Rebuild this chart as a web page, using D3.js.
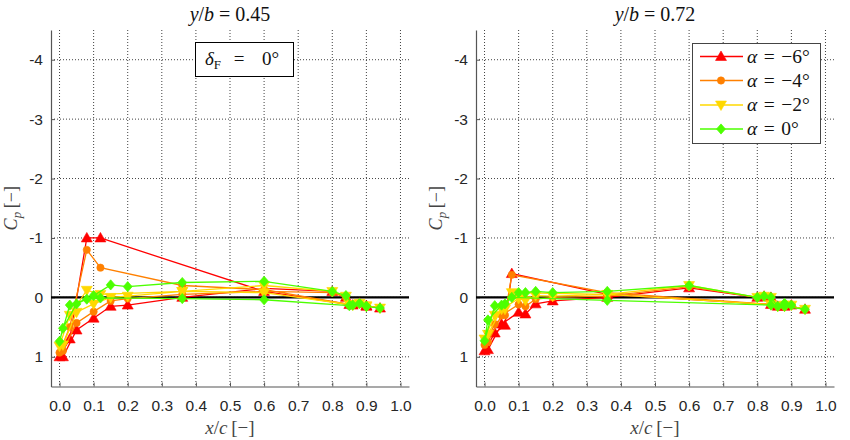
<!DOCTYPE html>
<html><head><meta charset="utf-8">
<script src="https://cdn.jsdelivr.net/npm/d3@7"></script>
<style>body{margin:0;background:#fff} .serif{font-family:"Liberation Serif","Times New Roman","DejaVu Serif",serif} .sans{font-family:"Liberation Sans",Arial,Helvetica,sans-serif}</style>
</head><body><svg id="c" width="850" height="440"></svg>
<script>
// ---------- data ----------
const xTicks = [0, 0.1, 0.2, 0.3, 0.4, 0.5, 0.6, 0.7, 0.8, 0.9, 1.0];
const yTicks = [-4, -3, -2, -1, 0, 1];
const alphaLabels = ["\u22126", "\u22124", "\u22122", "0"];
const seriesColors = ["#ff0000", "#ff8000", "#ffd800", "#4cff00"];
const seriesSymbols = ["triangle", "circle", "triangleDown", "diamond"];
const panelTitles = ["0.45", "0.72"];

// y/b = 0.45 : surface A (suction-peak side) and surface B, leading edge -> trailing edge
const leftXA = [0.0, 0.03, 0.08, 0.12, 0.36, 0.6, 0.85, 0.88, 0.9, 0.94];
const leftXB = [0.01, 0.05, 0.1, 0.15, 0.2, 0.36, 0.6, 0.8, 0.84, 0.86, 0.9];
const leftRedA    = [1.0, 0.70, -1.0, -1.0, null, -0.10, 0.12, 0.10, 0.14, 0.18];
const leftRedB    = [1.0, 0.55, 0.35, 0.15, 0.13, 0.0, -0.15, -0.10, 0.0, 0.13, 0.15];
const leftOrangeA = [0.93, 0.50, -0.80, -0.50, -0.20, -0.13, 0.12, 0.10, 0.14, 0.18];
const leftOrangeB = [0.90, 0.43, 0.24, 0.06, 0.02, -0.05, -0.10, -0.08, 0.0, 0.13, 0.15];
const leftYellowA = [0.82, 0.30, -0.12, -0.05, -0.10, -0.08, 0.12, 0.10, 0.14, 0.18];
const leftYellowB = [0.80, 0.25, 0.11, 0.0, -0.02, -0.10, -0.20, -0.10, -0.02, 0.13, 0.15];
const leftGreenA  = [0.74, 0.13, 0.03, 0.01, 0.02, 0.04, 0.14, 0.10, 0.15, 0.18];
const leftGreenB  = [0.52, 0.11, -0.03, -0.21, -0.18, -0.25, -0.27, -0.10, -0.03, 0.13, 0.15];

// y/b = 0.72
const rightXA = [0.0, 0.03, 0.06, 0.08, 0.36, 0.84, 0.88, 0.94];
const rightXB = [0.01, 0.05, 0.1, 0.12, 0.15, 0.2, 0.36, 0.6, 0.8, 0.82, 0.84, 0.86, 0.88, 0.9];
const rightRedA    = [0.90, 0.60, 0.47, -0.40, -0.05, 0.12, 0.13, 0.20];
const rightRedB    = [0.88, 0.45, 0.25, 0.28, 0.11, 0.06, 0.0, -0.16, 0.0, -0.02, 0.0, 0.15, 0.15, 0.13];
const rightOrangeA = [0.80, 0.45, 0.30, -0.38, -0.08, 0.12, 0.13, 0.20];
const rightOrangeB = [0.75, 0.30, 0.12, 0.15, 0.03, 0.0, -0.02, -0.18, 0.0, -0.02, 0.0, 0.15, 0.15, 0.13];
const rightYellowA = [0.70, 0.30, 0.20, -0.08, -0.05, 0.12, 0.13, 0.20];
const rightYellowB = [0.62, 0.20, 0.02, 0.05, -0.03, -0.02, -0.05, -0.20, 0.0, -0.02, 0.0, 0.15, 0.15, 0.13];
const rightGreenA  = [0.73, 0.14, 0.11, 0.0, 0.05, 0.13, 0.15, 0.20];
const rightGreenB  = [0.38, 0.13, -0.08, -0.08, -0.10, -0.08, -0.10, -0.20, 0.0, -0.02, 0.0, 0.15, 0.10, 0.13];

// ---------- build ----------
const panels = [
  {title: panelTitles[0], left: 51, xA: leftXA, xB: leftXB,
   A: [leftRedA, leftOrangeA, leftYellowA, leftGreenA],
   B: [leftRedB, leftOrangeB, leftYellowB, leftGreenB], note: true, legend: false},
  {title: panelTitles[1], left: 476, xA: rightXA, xB: rightXB,
   A: [rightRedA, rightOrangeA, rightYellowA, rightGreenA],
   B: [rightRedB, rightOrangeB, rightYellowB, rightGreenB], note: false, legend: true}
];

const svg = d3.select("#c");
const W = 358, plotTop = 30, plotBottom = 386.5;

function symbolPath(name, size) {
  const t = {triangle: d3.symbolTriangle, triangleDown: d3.symbolTriangle,
             circle: d3.symbolCircle, diamond: d3.symbolDiamond}[name];
  return d3.symbol().type(t).size(size)();
}
function symbolTransform(name, x, y) {
  if (name === "triangle") return `translate(${x},${y + 0.8})`;
  if (name === "triangleDown") return `translate(${x},${y - 0.8}) rotate(180)`;
  if (name === "diamond") return `translate(${x},${y}) scale(1.5,1)`;
  return `translate(${x},${y})`;
}
const symSize = {triangle: 52, triangleDown: 52, circle: 42, diamond: 30};

panels.forEach(p => {
  const x = d3.scaleLinear().domain([-0.025, 1.025]).range([p.left, p.left + W]);
  const y = d3.scaleLinear().domain([-4.5, 1.5]).range([plotTop, plotBottom]);
  const g = svg.append("g");

  // grid
  g.append("g").selectAll("line").data(xTicks).join("line")
    .attr("x1", d => x(d)).attr("x2", d => x(d)).attr("y1", plotTop).attr("y2", plotBottom)
    .attr("stroke", "#222").attr("stroke-width", 1).attr("stroke-dasharray", "1,2").attr("opacity", 0.85);
  g.append("g").selectAll("line").data(yTicks).join("line")
    .attr("y1", d => y(d)).attr("y2", d => y(d)).attr("x1", p.left).attr("x2", p.left + W)
    .attr("stroke", "#222").attr("stroke-width", 1).attr("stroke-dasharray", "1,2").attr("opacity", 0.85);

  // axes
  const xAxis = d3.axisBottom(x).tickValues(xTicks).tickFormat(d3.format(".1f")).tickSizeInner(-4).tickSizeOuter(0).tickPadding(13);
  const yAxis = d3.axisLeft(y).tickValues(yTicks).tickFormat(d => d < 0 ? "-" + Math.abs(d) : String(d)).tickSizeInner(-4).tickSizeOuter(0).tickPadding(8);
  const gx = g.append("g").attr("transform", `translate(0,${plotBottom})`).call(xAxis);
  const gy = g.append("g").attr("transform", `translate(${p.left},0)`).call(yAxis);
  [gx, gy].forEach(a => {
    a.attr("font-family", null).attr("font-size", null);
    a.select(".domain").attr("stroke", "#555").attr("stroke-width", 1.2);
    a.selectAll(".tick line").attr("stroke", "#555");
    a.selectAll(".tick text").attr("class", "sans").style("font-size", "15.5px").attr("fill", "#262626");
  });

  // zero line
  g.append("line").attr("x1", p.left).attr("x2", p.left + W).attr("y1", y(0)).attr("y2", y(0))
    .attr("stroke", "#000").attr("stroke-width", 2.2);

  // series
  const line = d3.line().x(d => x(d[0])).y(d => y(d[1]));
  for (let s = 0; s < 4; s++) {
    const ptsA = p.xA.map((xv, i) => [xv, p.A[s][i]]).filter(d => d[1] !== null);
    const ptsB = p.xB.map((xv, i) => [xv, p.B[s][i]]).filter(d => d[1] !== null);
    const path = ptsA.slice().reverse().concat(ptsB);
    g.append("path").datum(path).attr("d", line).attr("fill", "none")
      .attr("stroke", seriesColors[s]).attr("stroke-width", 1.3);
    const sym = seriesSymbols[s];
    g.append("g").selectAll("path").data(path).join("path")
      .attr("d", symbolPath(sym, symSize[sym]))
      .attr("transform", d => symbolTransform(sym, x(d[0]), y(d[1])))
      .attr("fill", seriesColors[s]).attr("stroke", seriesColors[s]).attr("stroke-width", 0.6);
  }

  // title
  const cx = p.left + W / 2;
  const t = g.append("text").attr("class", "serif").attr("x", cx).attr("y", 21).attr("text-anchor", "middle")
    .style("font-size", "20px").attr("fill", "#111");
  t.append("tspan").style("font-style", "italic").text("y");
  t.append("tspan").text("/");
  t.append("tspan").style("font-style", "italic").text("b");
  t.append("tspan").text("\u2005=\u2005" + p.title);

  // x label
  const xl = g.append("text").attr("class", "serif").attr("x", cx).attr("y", 434).attr("text-anchor", "middle")
    .style("font-size", "19px").attr("fill", "#444");
  xl.append("tspan").style("font-style", "italic").text("x");
  xl.append("tspan").text("/");
  xl.append("tspan").style("font-style", "italic").text("c");
  xl.append("tspan").text("\u2009[\u2212]");

  // y label
  const yl = g.append("text").attr("class", "serif")
    .attr("transform", `translate(${p.left - 34},${(plotTop + plotBottom) / 2}) rotate(-90)`)
    .attr("text-anchor", "middle").style("font-size", "18px").attr("fill", "#444");
  yl.append("tspan").style("font-style", "italic").text("C");
  yl.append("tspan").style("font-style", "italic").style("font-size", "13px").attr("dy", 4).text("p");
  yl.append("tspan").attr("dy", -4).text("\u2009[\u2212]");

  // annotation box
  if (p.note) {
    g.append("rect").attr("x", 195.5).attr("y", 42.5).attr("width", 98).attr("height", 34)
      .attr("fill", "#fff").attr("stroke", "#000").attr("stroke-width", 1);
    const n1 = g.append("text").attr("class", "serif").attr("x", 205).attr("y", 65)
      .style("font-size", "19px").attr("fill", "#111");
    n1.append("tspan").style("font-style", "italic").text("\u03b4");
    n1.append("tspan").style("font-size", "13px").attr("dy", 4).text("F");
    g.append("text").attr("class", "serif").attr("x", 239).attr("y", 65).attr("text-anchor", "middle")
      .style("font-size", "19px").attr("fill", "#111").text("=");
    g.append("text").attr("class", "serif").attr("x", 262).attr("y", 65)
      .style("font-size", "19px").attr("fill", "#111").text("0\u00b0");
  }

  // legend
  if (p.legend) {
    g.append("rect").attr("x", 692.5).attr("y", 43.5).attr("width", 128).attr("height", 100)
      .attr("fill", "#fff").attr("stroke", "#444").attr("stroke-width", 1);
    const ly = [56.5, 80.5, 105, 129];
    for (let s = 0; s < 4; s++) {
      g.append("line").attr("x1", 700).attr("x2", 743).attr("y1", ly[s]).attr("y2", ly[s])
        .attr("stroke", seriesColors[s]).attr("stroke-width", 1.3);
      const sym = seriesSymbols[s];
      g.append("path").attr("d", symbolPath(sym, symSize[sym]))
        .attr("transform", symbolTransform(sym, 721, ly[s]))
        .attr("fill", seriesColors[s]).attr("stroke", seriesColors[s]).attr("stroke-width", 0.6);
      const lt = g.append("text").attr("class", "serif").attr("x", 747).attr("y", ly[s] + 6)
        .style("font-size", "19.5px").attr("fill", "#111");
      lt.append("tspan").style("font-style", "italic").text("\u03b1");
      lt.append("tspan").text("\u2004=\u2004" + alphaLabels[s] + "\u00b0");
    }
  }
});
</script></body></html>
